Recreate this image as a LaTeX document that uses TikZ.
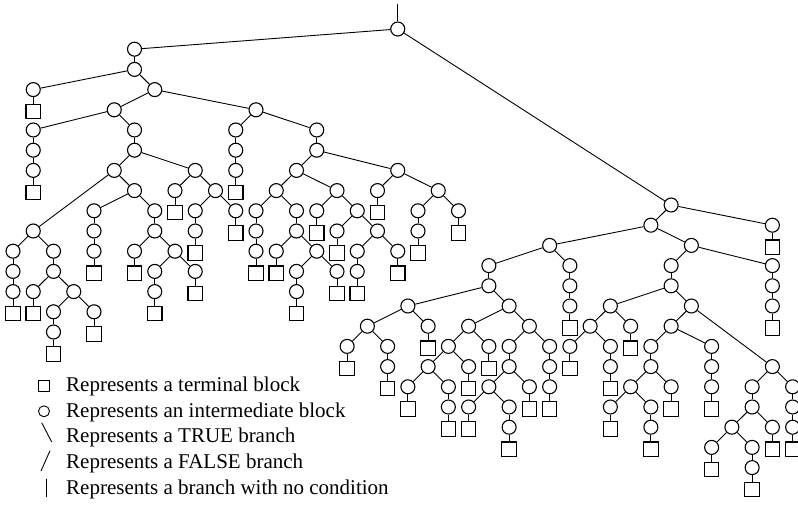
\documentclass[tikz,border=0pt]{standalone}
\usepackage{fontspec}
\setmainfont{Liberation Serif}
\begin{document}
\begin{tikzpicture}[x=1pt,y=-1pt,
  ci/.style={draw, circle, minimum size=14pt, inner sep=0pt, line width=1.1pt},
  sq/.style={draw, rectangle, minimum size=14.5pt, inner sep=0pt, line width=1.1pt, yshift=-1.8pt},
  conn/.style={line width=0.9pt},
  legtext/.style={anchor=base west, inner sep=0pt, font=\fontsize{21}{25}\selectfont},
  legsym/.style={line width=0.9pt}]
\useasboundingbox (0,0) rectangle (798,504);
% left part (with root)
\begin{scope}[x=20.25pt,y=-20.2pt,shift={(13pt,-29pt)}]
\coordinate (top) at (19,-1.24);
\foreach \k/\r in {19/0, 6/1, 6/2, 1/3, 7/3, 5/4, 12/4, 1/5, 6/5, 1/6, 1/7, 6/6, 5/7, 9/7, 1/10, 6/8, 0/11, 2/11, 0/12, 0/13, 2/12, 1/13, 3/13, 2/14, 2/15, 4/14, 4/9, 7/9, 4/10, 4/11, 7/10, 6/11, 8/11, 7/12, 7/13, 9/12, 8/8, 10/8, 9/9, 9/10, 11/9, 11/5, 15/5, 11/6, 11/7, 15/6, 14/7, 19/7, 13/8, 16/8, 12/9, 14/9, 12/10, 12/11, 14/10, 13/11, 15/11, 14/12, 14/13, 16/12, 15/9, 17/9, 16/10, 18/10, 17/11, 19/11, 17/12, 18/8, 21/8, 20/9, 22/9, 20/10}
  \node[ci] (L\k-\r) at (\k,\r) {};
\foreach \k/\r in {1/4, 1/8, 0/14, 1/14, 2/16, 4/15, 4/12, 6/12, 7/14, 9/13, 8/9, 9/11, 11/10, 11/8, 12/12, 13/12, 14/14, 16/13, 15/10, 16/11, 17/13, 19/12, 18/9, 20/11, 22/10}
  \node[sq] (L\k-\r) at (\k,\r) {};
\end{scope}
% right part
\begin{scope}[x=20.25pt,y=-20.2pt,shift={(23.125pt,-205pt)}]
\foreach \k/\r in {32/0, 31/1, 37/1, 26/2, 33/2, 23/3, 27/3, 27/4, 27/5, 23/4, 19/5, 24/5, 17/6, 20/6, 16/7, 18/7, 18/8, 22/6, 25/6, 21/7, 23/7, 20/8, 22/8, 19/9, 21/9, 21/10, 24/7, 26/7, 24/8, 23/9, 25/9, 22/10, 24/10, 24/11, 26/8, 26/9, 32/3, 37/3, 37/4, 37/5, 32/4, 29/5, 33/5, 28/6, 30/6, 27/7, 29/7, 29/8, 32/6, 37/8, 31/7, 34/7, 31/8, 30/9, 32/9, 29/10, 31/10, 31/11, 34/8, 34/9, 36/9, 38/9, 36/10, 35/11, 37/11, 34/12, 36/12, 36/13, 38/10, 38/11}
  \node[ci] (R\k-\r) at (\k,\r) {};
\foreach \k/\r in {37/2, 27/6, 16/8, 18/9, 20/7, 19/10, 21/11, 22/9, 23/8, 22/11, 24/12, 25/10, 26/10, 37/6, 27/8, 29/9, 30/7, 29/11, 31/12, 32/10, 34/10, 34/13, 36/14, 37/12, 38/12}
  \node[sq] (R\k-\r) at (\k,\r) {};
\end{scope}
% connectors
\draw[conn] (top) -- (L19-0);
\draw[conn] (L19-0) -- (R32-0);
\foreach \a/\b in {19-0/6-1, 6-1/6-2, 6-2/1-3, 6-2/7-3, 1-3/1-4, 7-3/5-4, 7-3/12-4, 5-4/1-5, 5-4/6-5, 1-5/1-6, 1-6/1-7, 1-7/1-8, 6-5/6-6, 6-6/5-7, 6-6/9-7, 5-7/1-10, 5-7/6-8, 1-10/0-11, 1-10/2-11, 0-11/0-12, 0-12/0-13, 0-13/0-14, 2-11/2-12, 2-12/1-13, 2-12/3-13, 1-13/1-14, 3-13/2-14, 3-13/4-14, 2-14/2-15, 2-15/2-16, 4-14/4-15, 6-8/4-9, 6-8/7-9, 4-9/4-10, 4-10/4-11, 4-11/4-12, 7-9/7-10, 7-10/6-11, 7-10/8-11, 6-11/6-12, 8-11/7-12, 8-11/9-12, 7-12/7-13, 7-13/7-14, 9-12/9-13, 9-7/8-8, 9-7/10-8, 8-8/8-9, 10-8/9-9, 10-8/11-9, 9-9/9-10, 9-10/9-11, 11-9/11-10, 12-4/11-5, 12-4/15-5, 11-5/11-6, 11-6/11-7, 11-7/11-8, 15-5/15-6, 15-6/14-7, 15-6/19-7, 14-7/13-8, 14-7/16-8, 13-8/12-9, 13-8/14-9, 12-9/12-10, 12-10/12-11, 12-11/12-12, 14-9/14-10, 14-10/13-11, 14-10/15-11, 13-11/13-12, 15-11/14-12, 15-11/16-12, 14-12/14-13, 14-13/14-14, 16-12/16-13, 16-8/15-9, 16-8/17-9, 15-9/15-10, 17-9/16-10, 17-9/18-10, 16-10/16-11, 18-10/17-11, 18-10/19-11, 17-11/17-12, 17-12/17-13, 19-11/19-12, 19-7/18-8, 19-7/21-8, 18-8/18-9, 21-8/20-9, 21-8/22-9, 20-9/20-10, 20-10/20-11, 22-9/22-10}
  \draw[conn] (L\a) -- (L\b);
\foreach \a/\b in {32-0/31-1, 32-0/37-1, 37-1/37-2, 31-1/26-2, 31-1/33-2, 26-2/23-3, 26-2/27-3, 27-3/27-4, 27-4/27-5, 27-5/27-6, 23-3/23-4, 23-4/19-5, 23-4/24-5, 19-5/17-6, 19-5/20-6, 17-6/16-7, 17-6/18-7, 16-7/16-8, 18-7/18-8, 18-8/18-9, 20-6/20-7, 24-5/22-6, 24-5/25-6, 22-6/21-7, 22-6/23-7, 21-7/20-8, 21-7/22-8, 20-8/19-9, 20-8/21-9, 19-9/19-10, 21-9/21-10, 21-10/21-11, 22-8/22-9, 23-7/23-8, 25-6/24-7, 25-6/26-7, 24-7/24-8, 24-8/23-9, 24-8/25-9, 23-9/22-10, 23-9/24-10, 22-10/22-11, 24-10/24-11, 24-11/24-12, 25-9/25-10, 26-7/26-8, 26-8/26-9, 26-9/26-10, 33-2/32-3, 33-2/37-3, 37-3/37-4, 37-4/37-5, 37-5/37-6, 32-3/32-4, 32-4/29-5, 32-4/33-5, 29-5/28-6, 29-5/30-6, 28-6/27-7, 28-6/29-7, 27-7/27-8, 29-7/29-8, 29-8/29-9, 30-6/30-7, 33-5/32-6, 33-5/37-8, 32-6/31-7, 32-6/34-7, 31-7/31-8, 31-8/30-9, 31-8/32-9, 30-9/29-10, 30-9/31-10, 29-10/29-11, 31-10/31-11, 31-11/31-12, 32-9/32-10, 34-7/34-8, 34-8/34-9, 34-9/34-10, 37-8/36-9, 37-8/38-9, 36-9/36-10, 36-10/35-11, 36-10/37-11, 35-11/34-12, 35-11/36-12, 34-12/34-13, 36-12/36-13, 36-13/36-14, 37-11/37-12, 38-9/38-10, 38-10/38-11, 38-11/38-12}
  \draw[conn] (R\a) -- (R\b);
% legend
\draw[legsym] (38,380.5) rectangle (49.5,391.8);
\draw[legsym] (44,411.3) circle (5.5);
\draw[legsym] (41.7,422.7) -- (51.7,442);
\draw[legsym] (50,450.7) -- (41,471);
\draw[legsym] (46,478.5) -- (46,497);
\node[legtext] (t1) at (66,391.3) {Represents a terminal block};
\node[legtext] (t2) at (66,417) {Represents an intermediate block};
\node[legtext] (t3) at (66,442) {Represents a TRUE branch};
\node[legtext] (t4) at (66,468.7) {Represents a FALSE branch};
\node[legtext] (t5) at (66,494.7) {Represents a branch with no condition};
\end{tikzpicture}
\end{document}
